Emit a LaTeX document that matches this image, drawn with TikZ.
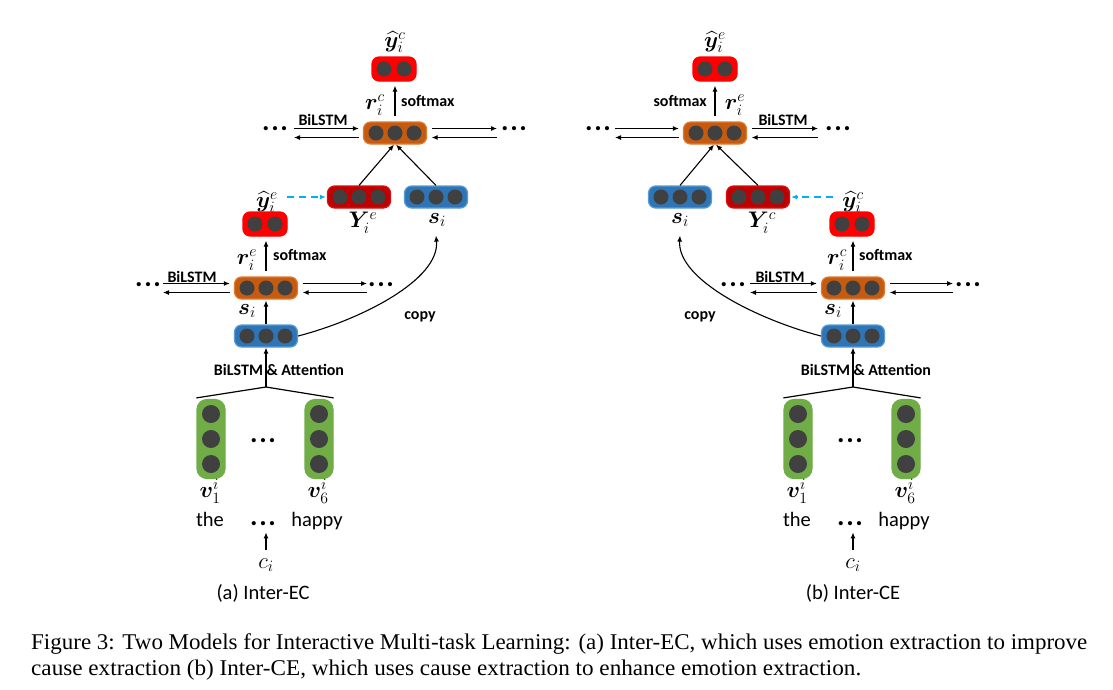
\RequirePackage{fix-cm}
\documentclass[tikz,border=0pt]{standalone}
\usepackage{amsmath,bm}
\usepackage{graphicx}
\usepackage{fontspec}
\setmainfont{Carlito}
\newfontfamily\capfont{Liberation Serif}
\usetikzlibrary{arrows.meta,calc}
\definecolor{cgray}{HTML}{404040}
\definecolor{corange}{HTML}{C55A11}
\definecolor{corangeb}{HTML}{E07A30}
\definecolor{cdred}{HTML}{C00000}
\definecolor{cdredb}{HTML}{D81010}
\definecolor{cblue}{HTML}{2E75B6}
\definecolor{cblueb}{HTML}{5B9BD5}
\definecolor{cred}{HTML}{FF0000}
\definecolor{cgreen}{HTML}{70AD47}
\definecolor{ccyan}{HTML}{00B0F0}
\newcommand{\threedots}{.\kern1.6pt.\kern1.6pt.}
\tikzset{
  vbox/.style={rounded corners=7pt, line width=1.2pt, minimum height=22pt, inner sep=0pt},
  orangebox/.style={fill=corange, draw=corangeb},
  dredbox/.style={fill=cdred, draw=cdredb},
  bluebox/.style={fill=cblue, draw=cblueb},
  redbox/.style={fill=cred, draw=cred, minimum height=24pt},
  cell/.style={circle, fill=cgray, minimum size=15pt, inner sep=0pt},
  gcell/.style={circle, fill=cgray, minimum size=18pt, inner sep=0pt},
  arr/.style={-{Latex[length=6pt,width=5pt]}, line width=1.1pt},
  dasharr/.style={-{Latex[length=6pt,width=5pt]}, line width=1.2pt, draw=ccyan, dash pattern=on 7pt off 5pt},
  plain/.style={line width=1.2pt},
  lab/.style={font=\fontsize{16}{19}\selectfont\bfseries, inner sep=0pt},
  txt/.style={font=\fontsize{20.5}{24}\selectfont, inner sep=0pt},
  mlab/.style={font=\fontsize{22.5}{26}\selectfont, inner sep=0pt},
  dotn/.style={font=\fontsize{28}{30}\selectfont\bfseries, inner sep=0pt, anchor=base},
}
\newcommand{\vecrow}[7]{%
  \node[vbox, #7, minimum width=#6pt] (#1) at (#2,#3) {};
  \foreach \idx in {1,...,#4}{\node[cell] at ($(#1.center)+({(\idx-(#4+1)/2)*#5},0)$) {};}
}
\newcommand{\vecvert}[3]{%
  \node[vbox, fill=cgreen, draw=cgreen, minimum width=28pt, minimum height=79pt, rounded corners=10pt] (#1) at (#2,#3) {};
  \foreach \idx in {-1,0,1}{\node[gcell] at ($(#1.center)+(0,{\idx*25})$) {};}
}
% #1 node, #2 left coordinate, #3 right coordinate
\newcommand{\bipair}[3]{%
  \draw[arr] ([yshift=4.5pt]#2) -- ([yshift=4.5pt,xshift=-4pt]#1.west);
  \draw[arr] ([yshift=-4.5pt,xshift=-4pt]#1.west) -- ([yshift=-4.5pt]#2);
  \draw[arr] ([yshift=4.5pt,xshift=4.5pt]#1.east) -- ([yshift=4.5pt]#3);
  \draw[arr] ([yshift=-4.5pt]#3) -- ([yshift=-4.5pt,xshift=4.5pt]#1.east);
}
\begin{document}
\begin{tikzpicture}[x=1pt,y=-1pt]
\useasboundingbox (0,0) rectangle (1113,689);
\fill[white] (0,0) rectangle (1113,689);

% ================= LEFT PANEL (a) =================
\vecrow{ycA}{394}{69}{2}{20}{44}{redbox}
\node[mlab] (ycAlab) at (395,42) {$\widehat{\bm{y}}_i^c$};
\vecrow{rcA}{395}{133}{3}{19}{63}{orangebox}
\node[mlab] (rcAlab) at (375,105) {$\bm{r}_i^c$};
\draw[arr, shorten <=5pt, shorten >=4pt] (rcA.north) -- (rcA.north |- ycA.south);
\node[lab, anchor=west] (smA1) at (401,101) {softmax};
\node[lab] (blA1) at (323,120) {BiLSTM};
\coordinate (rcAL) at (294,133);
\coordinate (rcAR) at (497,133);
\bipair{rcA}{rcAL}{rcAR}
\node[dotn] (dA1) at (275,130) {\threedots};
\node[dotn] (dA2) at (514,130) {\threedots};

\vecrow{YeA}{359}{197}{3}{19}{63}{dredbox}
\node[mlab] (YeAlab) at (363,223) {$\bm{Y}_i^e$};
\vecrow{sA}{436}{197}{3}{19}{63}{bluebox}
\node[mlab] (sAlab) at (437,220) {$\bm{s}_i$};
\draw[arr] (YeA.north) -- ([xshift=-1pt]rcA.south);
\draw[arr] (sA.north) -- ([xshift=1pt]rcA.south);

\node[mlab] (yeAlab) at (267,202) {$\widehat{\bm{y}}_i^e$};
\vecrow{yeA}{265}{224}{2}{20}{44}{redbox}
\draw[dasharr, shorten <=9pt, shorten >=1pt] (yeAlab.east |- YeA.west) -- (YeA.west);

\vecrow{reA}{266}{288}{3}{19}{63}{orangebox}
\draw[arr, shorten <=5pt, shorten >=4pt] (reA.north) -- (reA.north |- yeA.south);
\node[mlab] (reAlab) at (247,260) {$\bm{r}_i^e$};
\node[lab, anchor=west] (smA2) at (273,255) {softmax};
\node[lab] (blA2) at (192,277) {BiLSTM};
\coordinate (reAL) at (163,288);
\coordinate (reAR) at (367,288);
\bipair{reA}{reAL}{reAR}
\node[dotn] (dA3) at (148,286) {\threedots};
\node[dotn] (dA4) at (381,286) {\threedots};

\node[mlab] (siA) at (247,311) {$\bm{s}_i$};
\vecrow{bsA}{266}{336}{3}{19}{63}{bluebox}
\draw[arr, shorten >=1pt] (bsA.north) -- (reA.south);
\coordinate (cpA) at ([yshift=-27pt]sA.south);
\draw[arr] (bsA.east) .. controls (360,320) and (440,280) .. (cpA);
\node[lab] (copyA) at (420,317) {copy};

\node[lab] (attA) at (279,370) {BiLSTM \& Attention};
\coordinate (tpA) at (266,387);
\draw[arr] (tpA) -- (bsA.south);
\vecvert{g1A}{211}{439}
\vecvert{g6A}{319}{439}
\draw[plain] (tpA) -- ([yshift=1pt]g1A.north west);
\draw[plain] (tpA) -- ([yshift=1pt]g6A.north east);
\node[dotn] (mdA) at (263,442) {\threedots};
\node[mlab] (v1A) at (210,491) {$\bm{v}_1^i$};
\node[mlab] (v6A) at (318,491) {$\bm{v}_6^i$};
\node[txt, anchor=base] (theA) at (210,526) {the};
\node[dotn] (bdA) at (263,525) {\threedots};
\node[txt, anchor=base] (hapA) at (317,526) {happy};
\node[mlab] (ciA) at (266,565) {$c_i$};
\draw[arr, shorten <=8pt, shorten >=7pt] (ciA.north) -- (ciA.north |- bdA.south);
\node[txt] (capA) at (263,593) {(a) Inter-EC};

% ================= RIGHT PANEL (b) =================
\vecrow{yeB}{715}{69}{2}{20}{44}{redbox}
\node[mlab] (yeBlab) at (715,42) {$\widehat{\bm{y}}_i^e$};
\vecrow{reB}{715}{133}{3}{19}{63}{orangebox}
\node[mlab] (reBlab) at (735,105) {$\bm{r}_i^e$};
\draw[arr, shorten <=5pt, shorten >=4pt] (reB.north) -- (reB.north |- yeB.south);
\node[lab, anchor=east] (smB1) at (707,101) {softmax};
\node[lab] (blB1) at (783,120) {BiLSTM};
\coordinate (reBL) at (615,133);
\coordinate (reBR) at (818,133);
\bipair{reB}{reBL}{reBR}
\node[dotn] (dB1) at (598,130) {\threedots};
\node[dotn] (dB2) at (838,130) {\threedots};

\vecrow{sB}{680}{197}{3}{19}{63}{bluebox}
\node[mlab] (sBlab) at (680,220) {$\bm{s}_i$};
\vecrow{YcB}{758}{197}{3}{19}{63}{dredbox}
\node[mlab] (YcBlab) at (762,223) {$\bm{Y}_i^c$};
\draw[arr] (sB.north) -- ([xshift=-1pt]reB.south);
\draw[arr] (YcB.north) -- ([xshift=1pt]reB.south);

\node[mlab] (ycBlab) at (853,202) {$\widehat{\bm{y}}_i^c$};
\vecrow{ycB}{852}{224}{2}{20}{44}{redbox}
\draw[dasharr, shorten <=9pt, shorten >=1pt] (ycBlab.west |- YcB.east) -- (YcB.east);

\vecrow{rcB}{853}{288}{3}{19}{63}{orangebox}
\draw[arr, shorten <=5pt, shorten >=4pt] (rcB.north) -- (rcB.north |- ycB.south);
\node[mlab] (rcBlab) at (837,260) {$\bm{r}_i^c$};
\node[lab, anchor=west] (smB2) at (859,255) {softmax};
\node[lab] (blB2) at (780,277) {BiLSTM};
\coordinate (rcBL) at (750,288);
\coordinate (rcBR) at (953,288);
\bipair{rcB}{rcBL}{rcBR}
\node[dotn] (dB3) at (733,286) {\threedots};
\node[dotn] (dB4) at (968,286) {\threedots};

\node[mlab] (siB) at (833,311) {$\bm{s}_i$};
\vecrow{bsB}{853}{336}{3}{19}{63}{bluebox}
\draw[arr, shorten >=1pt] (bsB.north) -- (rcB.south);
\coordinate (cpB) at ([yshift=-27pt]sB.south);
\draw[arr] (bsB.west) .. controls (759,320) and (677,280) .. (cpB);
\node[lab] (copyB) at (700,317) {copy};

\node[lab] (attB) at (866,370) {BiLSTM \& Attention};
\coordinate (tpB) at (853,387);
\draw[arr] (tpB) -- (bsB.south);
\vecvert{g1B}{798}{439}
\vecvert{g6B}{906}{439}
\draw[plain] (tpB) -- ([yshift=1pt]g1B.north west);
\draw[plain] (tpB) -- ([yshift=1pt]g6B.north east);
\node[dotn] (mdB) at (850,442) {\threedots};
\node[mlab] (v1B) at (797,491) {$\bm{v}_1^i$};
\node[mlab] (v6B) at (905,491) {$\bm{v}_6^i$};
\node[txt, anchor=base] (theB) at (797,526) {the};
\node[dotn] (bdB) at (850,525) {\threedots};
\node[txt, anchor=base] (hapB) at (904,526) {happy};
\node[mlab] (ciB) at (853,565) {$c_i$};
\draw[arr, shorten <=8pt, shorten >=7pt] (ciB.north) -- (ciB.north |- bdB.south);
\node[txt] (capB) at (853,593) {(b) Inter-CE};

% ================= CAPTION =================
\node[anchor=base west, inner sep=0pt] (cap1) at (31,649) {\resizebox{1056pt}{\height}{\capfont\fontsize{22.5}{27}\selectfont Figure 3: Two Models for Interactive Multi-task Learning: (a) Inter-EC, which uses emotion extraction to improve}};
\node[anchor=base west, inner sep=0pt] (cap2) at (31,675) {\resizebox{830pt}{\height}{\capfont\fontsize{22.5}{27}\selectfont cause extraction (b) Inter-CE, which uses cause extraction to enhance emotion extraction.}};
\end{tikzpicture}
\end{document}
